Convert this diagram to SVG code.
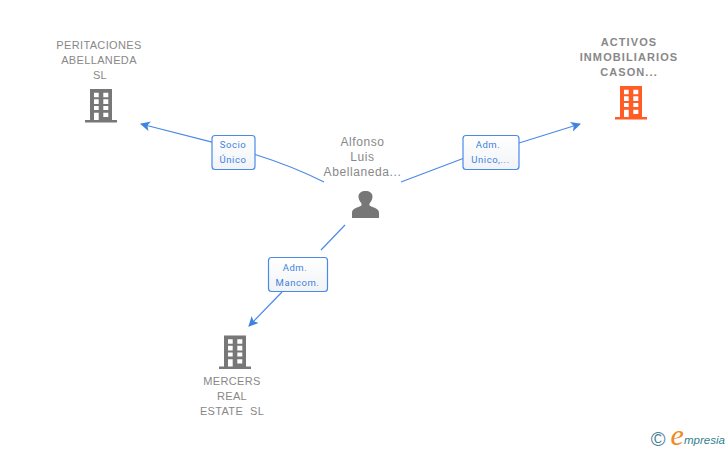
<svg xmlns="http://www.w3.org/2000/svg" width="728" height="450" viewBox="0 0 728 450">
<style>
.n{font-family:"Liberation Sans",Arial,sans-serif;font-size:11px;letter-spacing:.35px;fill:#888;text-anchor:middle}
.b{font-weight:bold;letter-spacing:1.1px}
.p{font-size:12px;letter-spacing:.6px}
.l{font-family:Roboto,"Liberation Sans",sans-serif;font-size:9.5px;letter-spacing:.55px;fill:#3f82e0;text-anchor:middle}
.box{fill:url(#g);stroke:#4a8ae6;stroke-width:1.2}
.c{fill:none;stroke:#4a8ae6;stroke-width:1.2}
</style>
<defs>
<linearGradient id="g" x1="0" y1="0" x2="0" y2="1"><stop offset="0" stop-color="#fff"/><stop offset="1" stop-color="#f1f3f6"/></linearGradient>
<marker id="a" markerWidth="12" markerHeight="12" refX="9" refY="5" orient="auto" markerUnits="userSpaceOnUse"><path d="M0 0L10 5L0 10L2.500 5Z" fill="#3f82e0"/></marker>
<path id="bld" fill-rule="evenodd" d="M5 0H27V31H32V33.500H0V31H5ZM9 3.700V8.300H13.700V3.700ZM18.300 3.700V8.300H23.300V3.700ZM9 10.300V15H13.700V10.300ZM18.300 10.300V15H23.300V10.300ZM9 17V21H13.700V17ZM18.300 17V21H23.300V17ZM9 23.700V31H13.700V23.700ZM18.300 23.700V28H23.300V23.700Z"/>
</defs>
<g id="connectors">
<path class="c" marker-end="url(#a)" d="M212 142.200L141 124"/>
<path class="c" d="M255 154.500Q292 166 324 182"/>
<path class="c" d="M401 182L463 158.500"/>
<path class="c" marker-end="url(#a)" d="M519 143L580 124"/>
<path class="c" d="M345 225L321 250"/>
<path class="c" marker-end="url(#a)" d="M282 292L249 326"/>
</g>
<g id="node-peritaciones">
<text class="n" x="99" y="49">PERITACIONES</text>
<text class="n" x="99" y="64">ABELLANEDA</text>
<text class="n" x="100" y="79">SL</text>
<use href="#bld" x="85" y="89" fill="#777"/>
</g>
<g id="node-activos">
<text class="n b" x="629" y="46">ACTIVOS</text>
<text class="n b" x="629" y="61">INMOBILIARIOS</text>
<text class="n b" x="629" y="76">CASON...</text>
<use href="#bld" x="615" y="86" fill="#ff5c26"/>
</g>
<g id="node-alfonso">
<text class="n p" x="362.500" y="146">Alfonso</text>
<text class="n p" x="362.500" y="161">Luis</text>
<text class="n p" x="362.500" y="176">Abellaneda...</text>
<path fill="#777" d="M352 218V212.500C352 208.500 358 207.500 361.500 205.500V203.500C359.500 201.500 358.500 198.500 358.500 196.500C358.500 193 361.500 191 365.500 191C369.500 191 372.500 193 372.500 196.500C372.500 198.500 371.500 201.500 369.500 203.500V205.500C373 207.500 379 208.500 379 212.500V218Z"/>
</g>
<g id="node-mercers">
<use href="#bld" x="219" y="335.500" fill="#777"/>
<text class="n" x="232" y="385">MERCERS</text>
<text class="n" x="232" y="400">REAL</text>
<text class="n" x="232" y="415" xml:space="preserve">ESTATE  SL</text>
</g>
<g id="label-socio">
<rect class="box" x="212" y="135.500" width="43" height="34" rx="3"/>
<text class="l" x="233" y="148">Socio</text>
<text class="l" x="233" y="163">Único</text>
</g>
<g id="label-unico">
<rect class="box" x="463" y="135.500" width="56" height="34" rx="3"/>
<text class="l" x="488" y="148">Adm.</text>
<text class="l" x="490.500" y="163">Unico,...</text>
</g>
<g id="label-mancom">
<rect class="box" x="268.500" y="257.500" width="59" height="34" rx="3"/>
<text class="l" x="295" y="271">Adm.</text>
<text class="l" x="297.500" y="286">Mancom.</text>
</g>
<g id="logo">
<text x="658" y="445.500" style="font-family:'Liberation Sans',sans-serif;font-size:20px;fill:#4a8199;text-anchor:middle">©</text>
<text x="670.500" y="445" style="font-family:'Liberation Serif',serif;font-style:italic;font-size:30px;fill:#f08a24">e</text>
<text x="684" y="444" style="font-family:'Liberation Sans',sans-serif;font-style:italic;font-size:11.500px;fill:#2f7f8f">mpresia</text>
</g>
</svg>
